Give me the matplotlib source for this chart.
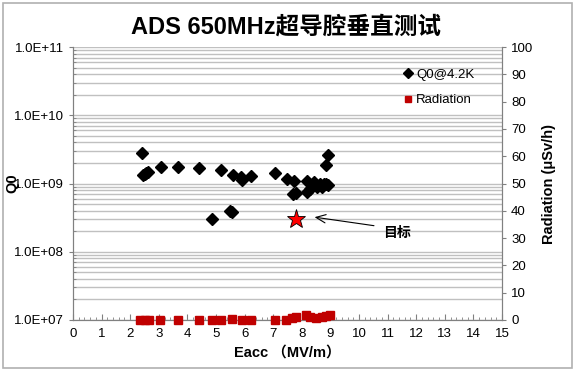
import numpy as np
import matplotlib
matplotlib.use('Agg')
import matplotlib.pyplot as plt
from matplotlib.lines import Line2D
from matplotlib.patches import Rectangle
from matplotlib.ticker import LogLocator, FixedLocator, MultipleLocator, FuncFormatter

plt.rcParams['font.family'] = ['Liberation Sans', 'Noto Sans CJK SC']

# Q0 @ 4.2K vs Eacc
eacc_q0 = [2.41, 2.45, 2.50, 2.55, 2.62, 3.07, 3.67, 4.40, 5.17, 5.58, 5.86, 5.92,
           6.21, 7.06, 7.47, 7.74, 8.17, 8.44, 7.70, 7.79, 8.17, 8.29, 8.52, 8.64,
           8.78, 8.92, 8.85, 8.71, 8.85, 8.93, 4.85, 5.49, 5.55]
q0 = [2.83e9, 1.33e9, 1.38e9, 1.43e9, 1.47e9, 1.76e9, 1.76e9, 1.71e9, 1.58e9, 1.32e9,
      1.26e9, 1.11e9, 1.30e9, 1.44e9, 1.16e9, 1.08e9, 1.10e9, 1.06e9, 6.95e8, 7.3e8,
      7.6e8, 8.2e8, 9.0e8, 9.8e8, 1.0e9, 9.5e8, 1.0e9, 8.9e8, 1.85e9, 2.59e9,
      2.99e8, 3.95e8, 3.8e8]

# Radiation vs Eacc
eacc_rad = [2.35, 2.50, 2.65, 3.05, 3.68, 4.40, 4.85, 5.18, 5.55, 5.90, 6.22, 7.07,
            7.45, 7.65, 7.80, 8.15, 8.30, 8.50, 8.70, 8.85, 9.00]
radiation = [0, 0, 0, 0, 0, 0, 0, 0, 0.5, 0, 0, 0,
             0, 0.8, 1.2, 2.0, 1.0, 0.8, 1.2, 1.3, 2.0]

# Target
target_eacc = 7.8
target_q0 = 3.0e8
target_label = '目标'

title = 'ADS 650MHz超导腔垂直测试'

fig = plt.figure(figsize=(5.75, 3.71), dpi=100)
ax = fig.add_axes([0.127, 0.1375, 0.746, 0.7355])
ax2 = ax.twinx()

grid_col = '#c0c0c0'
spine_col = '#808080'

# Q0 axis (log)
ax.set_yscale('log')
ax.set_ylim(1e7, 1e11)
ax.set_xlim(0, 15)
ax.yaxis.set_major_locator(LogLocator(base=10, numticks=10))
ax.yaxis.set_minor_locator(LogLocator(base=10, subs=np.arange(2, 10), numticks=20))
ax.yaxis.set_major_formatter(FuncFormatter(lambda v, p: '1.0E+%02d' % int(round(np.log10(v)))))
ax.yaxis.set_minor_formatter(FuncFormatter(lambda v, p: ''))
ax.yaxis.grid(True, which='both', color=grid_col, lw=1)
ax.set_axisbelow(True)
ax.xaxis.set_major_locator(MultipleLocator(1))
ax.xaxis.set_minor_locator(MultipleLocator(0.2))
ax.tick_params(axis='x', which='major', direction='in', length=4, color=spine_col, labelsize=9.5, pad=6)
ax.tick_params(axis='x', which='minor', direction='in', length=2.5, color=spine_col)
ax.tick_params(axis='y', which='major', direction='out', length=3, color=spine_col, labelsize=9.5)
ax.tick_params(axis='y', which='minor', direction='in', length=2, color=spine_col)
for s in ax.spines.values():
    s.set_color(spine_col)
ax.spines['top'].set_visible(False)

ax.plot(eacc_q0, q0, linestyle='none', marker='D', ms=6, color='black', zorder=3)
ax.plot([target_eacc], [target_q0], linestyle='none', marker='*', ms=14,
        markerfacecolor='red', markeredgecolor='black', markeredgewidth=0.6, zorder=4)

# arrow and label for target
ax.annotate('', xy=(8.35, 3.26e8), xytext=(10.62, 2.38e8),
            arrowprops=dict(arrowstyle='->,head_length=0.7,head_width=0.3', color='black', lw=0.8))
ax.text(11.33, 1.88e8, target_label, fontsize=10, fontweight='bold', ha='center', va='center',
        family=['Noto Sans CJK SC', 'DejaVu Sans'])

# Radiation axis
ax2.set_ylim(0, 100)
ax2.yaxis.set_major_locator(MultipleLocator(10))
ax2.tick_params(axis='y', direction='out', length=3, color=spine_col, labelsize=9.5)
for s in ax2.spines.values():
    s.set_color(spine_col)
ax2.spines['top'].set_visible(False)
ax2.plot(eacc_rad, radiation, linestyle='none', marker='s', ms=6, color='#c00000', clip_on=False, zorder=3)

ax.set_xlabel('Eacc （MV/m）', fontsize=10.5, fontweight='bold', labelpad=4,
              family=['Liberation Sans', 'Noto Sans CJK SC'])
ax.set_ylabel('Q0', fontsize=10.5, fontweight='bold')
ax.yaxis.set_label_coords(-0.124, 0.5)
ax2.set_ylabel('Radiation (μSv/h)', fontsize=10.5, fontweight='bold', labelpad=6)

fig.text(0.497, 0.928, title, fontsize=17, fontweight='bold', ha='center', va='center',
         family=['Liberation Sans', 'Noto Sans CJK SC'])

# legend
handles = [Line2D([], [], linestyle='none', marker='D', ms=5, color='black'),
           Line2D([], [], linestyle='none', marker='s', ms=5, color='#c00000')]
ax2.legend(handles, ['Q0@4.2K', 'Radiation'], loc='upper left', bbox_to_anchor=(0.745, 0.965),
           frameon=False, handlelength=0.6, handletextpad=0.3, labelspacing=1.0, fontsize=9.5)

# figure border
fig.patches.append(Rectangle((0.005, 0.008), 0.99, 0.984, transform=fig.transFigure,
                             fill=False, edgecolor='#b0b0b0', lw=1.2))

fig.savefig('out.png', dpi=100)
plt.close(fig)
